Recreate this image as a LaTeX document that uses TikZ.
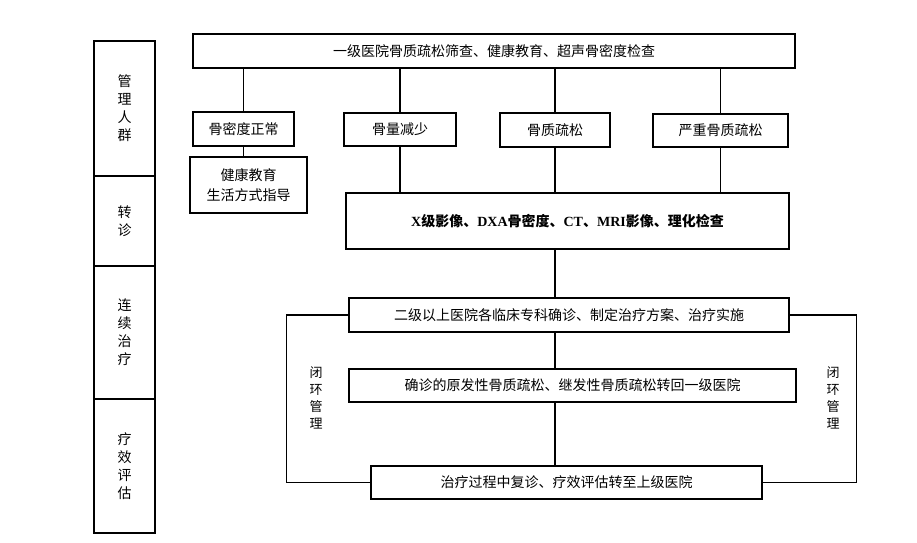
\documentclass[tikz,border=0pt]{standalone}
\usepackage{fontspec}
\setmainfont{Noto Sans CJK SC}
\newfontfamily\lat{Liberation Serif}
\begin{document}
\begin{tikzpicture}[x=1pt, y=-1pt,
	box/.style={draw, line width=1.4pt, inner sep=0pt, align=center, font=\fontsize{14}{20}\selectfont},
	cell/.style={draw, line width=1.6pt, minimum width=61pt, inner sep=0pt, align=center, font=\fontsize{14}{18}\selectfont},
	tag/.style={inner sep=0pt, align=center, font=\fontsize{13}{17}\selectfont},
	link/.style={line width=1.4pt}]
	\useasboundingbox (0,0) rectangle (917,542);

	% left column
	\node [cell, minimum height=135pt] (g1) at (124.5, 108.5) {管\\理\\人\\群};
	\node [cell, minimum height=90pt] (g2) at (124.5, 221) {转\\诊};
	\node [cell, minimum height=133pt] (g3) at (124.5, 332.5) {连\\续\\治\\疗};
	\node [cell, minimum height=134pt] (g4) at (124.5, 466) {疗\\效\\评\\估};

	% screening
	\node [box, minimum width=602pt, minimum height=34pt] (top) at (494, 51) {一级医院骨质疏松筛查、健康教育、超声骨密度检查};

	\node [box, minimum width=101pt, minimum height=34pt] (n1) at (243.5, 129) {骨密度正常};
	\node [box, minimum width=112pt, minimum height=33pt] (n2) at (400, 129.5) {骨量减少};
	\node [box, minimum width=110pt, minimum height=34pt] (n3) at (555, 130) {骨质疏松};
	\node [box, minimum width=135pt, minimum height=33pt] (n4) at (720.5, 130.5) {严重骨质疏松};

	\node [box, minimum width=117pt, minimum height=56pt] (health) at (248.5, 185) {健康教育\\生活方式指导};
	\node [box, minimum width=443pt, minimum height=56pt, font=\fontsize{14}{20}\selectfont\bfseries] (xray) at (567.5, 221)
		{{\lat\bfseries X}级影像、{\lat\bfseries DXA}骨密度、{\lat\bfseries CT}、{\lat\bfseries MRI}影像、理化检查};

	% treatment
	\node [box, minimum width=440pt, minimum height=34pt] (second) at (569, 315) {二级以上医院各临床专科确诊、制定治疗方案、治疗实施};
	\node [box, minimum width=447pt, minimum height=33pt] (back) at (572.5, 385.5) {确诊的原发性骨质疏松、继发性骨质疏松转回一级医院};
	\node [box, minimum width=391pt, minimum height=33pt] (review) at (566.5, 482.5) {治疗过程中复诊、疗效评估转至上级医院};

	\node [tag] (loopl) at (316, 398) {闭\\环\\管\\理};
	\node [tag] (loopr) at (833, 398) {闭\\环\\管\\理};

	% connectors
	\foreach \n in {n1, n2, n3, n4}
		\draw [link] (\n.north |- top.south) -- (\n.north);
	\draw [link] (n1.south) -- (n1.south |- health.north);
	\foreach \n in {n2, n3, n4}
		\draw [link] (\n.south) -- (\n.south |- xray.north);
	\draw [link] (xray.south -| n3.south) -- (second.north -| n3.south);
	\draw [link] (second.south -| n3.south) -- (back.north -| n3.south);
	\draw [link] (back.south -| n3.south) -- (review.north -| n3.south);

	\draw [link] (second.west) -- ++(-62, 0) |- (review.west);
	\draw [link] (second.east) -- ++(67, 0) |- (review.east);
\end{tikzpicture}
\end{document}
